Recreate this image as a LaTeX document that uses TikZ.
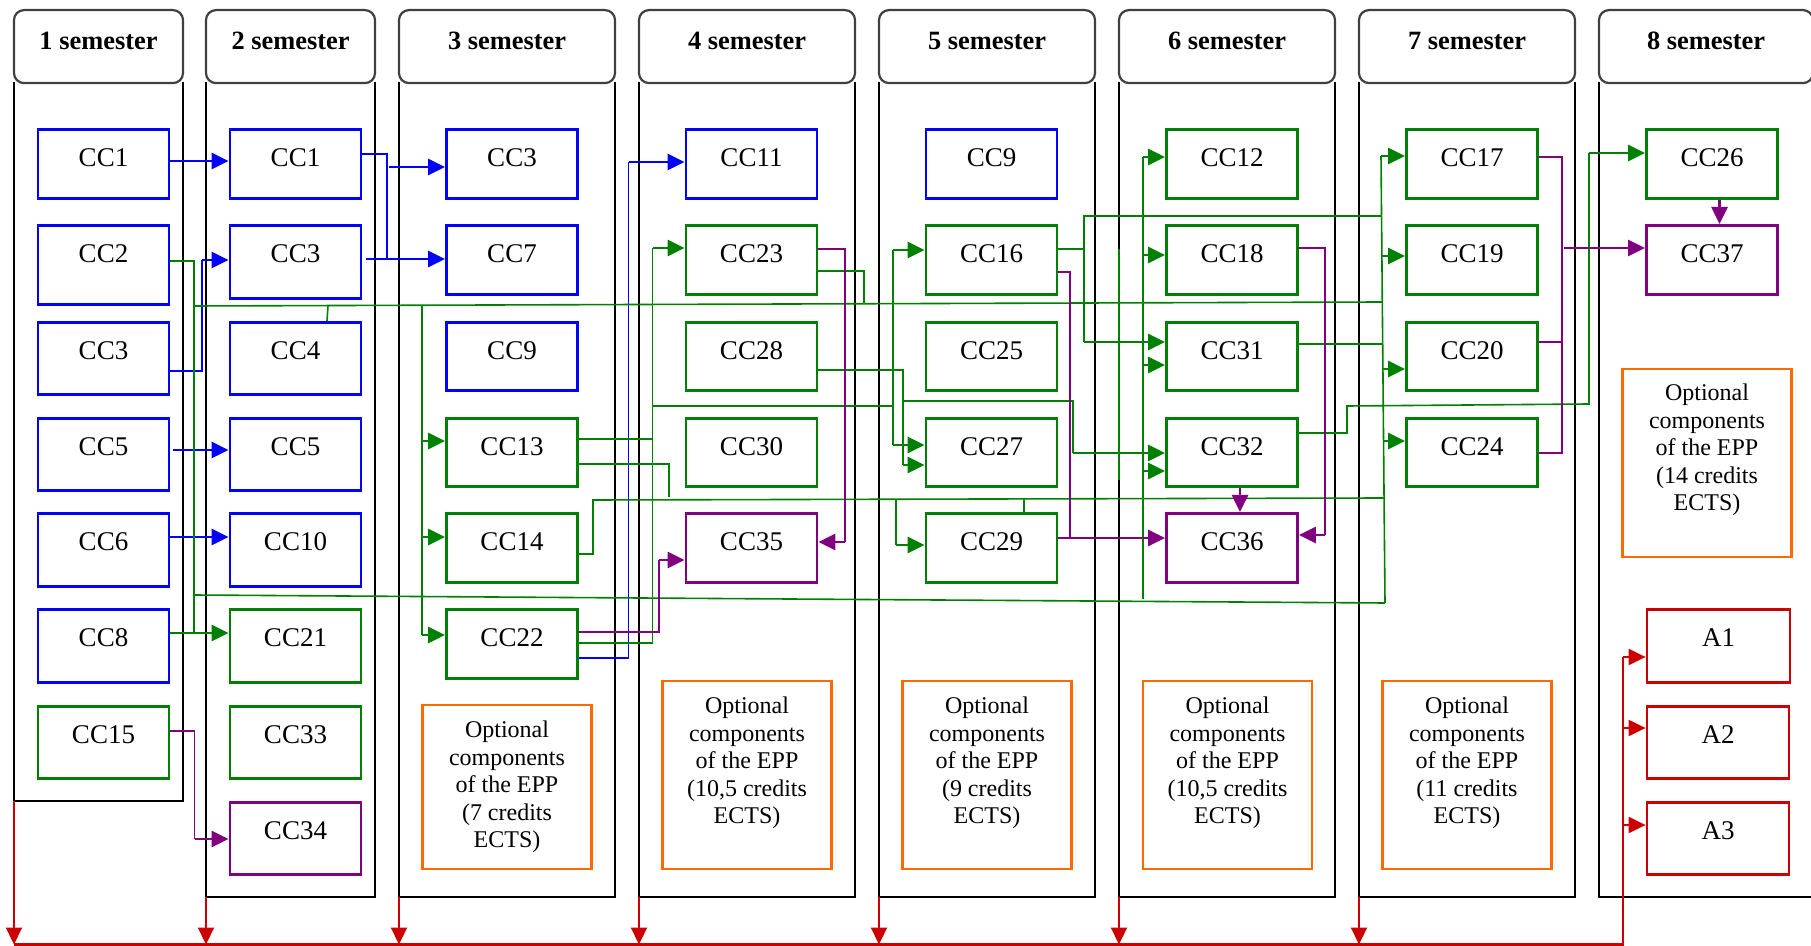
\documentclass[tikz,border=0pt]{standalone}
\usepackage{fontspec}
\setmainfont{Liberation Serif}
\usetikzlibrary{arrows.meta}
\definecolor{cblue}{RGB}{0,0,255}
\definecolor{cgreen}{RGB}{0,128,0}
\definecolor{cpurple}{RGB}{128,0,128}
\definecolor{corange}{RGB}{255,106,0}
\definecolor{cred}{RGB}{204,0,0}
\definecolor{hdrgray}{RGB}{64,64,64}
\begin{document}
\begin{tikzpicture}[x=0.5pt,y=-0.5pt,
  colline/.style={line width=1pt, black},
  hdr/.style={draw=hdrgray, line width=1.1pt, rounded corners=5pt, inner xsep=0pt, inner ysep=0pt, text height=19.5pt, text depth=17pt, anchor=north, font=\fontsize{13.2pt}{15pt}\selectfont\bfseries},
  ccbox/.style={draw=#1, line width=1.4pt, minimum width=65.5pt, inner xsep=0pt, inner ysep=0pt, text height=18.5pt, anchor=north, font=\fontsize{13.5pt}{16pt}\selectfont},
  optbox/.style={draw=corange, line width=1.4pt, minimum width=84.5pt, minimum height=94pt, inner sep=0pt},
  opttext/.style={align=center, inner sep=0pt, font=\fontsize{12pt}{13.8pt}\selectfont},
  conn/.style={line width=0.8pt},
  arr/.style={line width=1.3pt, -{Triangle[length=8.5pt,width=8pt]}},
  ]
\fill[white] (0,0) rectangle (1811,946);
\useasboundingbox (0,0) rectangle (1811,946);

% columns
\draw[colline] (14,82) -- (14,801) -- (183,801) -- (183,82);
\draw[colline] (206,82) -- (206,897) -- (375,897) -- (375,82);
\draw[colline] (399,82) -- (399,897) -- (615,897) -- (615,82);
\draw[colline] (639,82) -- (639,897) -- (855,897) -- (855,82);
\draw[colline] (879,82) -- (879,897) -- (1095,897) -- (1095,82);
\draw[colline] (1119,82) -- (1119,897) -- (1335,897) -- (1335,82);
\draw[colline] (1359,82) -- (1359,897) -- (1575,897) -- (1575,82);
\draw[colline] (1599,82) -- (1599,897) -- (1815,897);

% headers
\node[hdr, minimum width=84.5pt] (h1) at (98.5,9) {1 semester};
\node[hdr, minimum width=84.5pt] (h2) at (290.5,9) {2 semester};
\node[hdr, minimum width=108pt] (h3) at (507,9) {3 semester};
\node[hdr, minimum width=108pt] (h4) at (747,9) {4 semester};
\node[hdr, minimum width=108pt] (h5) at (987,9) {5 semester};
\node[hdr, minimum width=108pt] (h6) at (1227,9) {6 semester};
\node[hdr, minimum width=108pt] (h7) at (1467,9) {7 semester};
\node[hdr, minimum width=107pt] (h8) at (1706,9) {8 semester};

% column 1
\node[ccbox=cblue, text depth=16pt] (a1) at (103.5,128) {CC1};
\node[ccbox=cblue, text depth=21pt] (a2) at (103.5,224) {CC2};
\node[ccbox=cblue, text depth=17.5pt] (a3) at (103.5,321) {CC3};
\node[ccbox=cblue, text depth=17.5pt] (a5) at (103.5,417) {CC5};
\node[ccbox=cblue, text depth=18pt] (a6) at (103.5,512) {CC6};
\node[ccbox=cblue, text depth=18pt] (a8) at (103.5,608) {CC8};
\node[ccbox=cgreen, text depth=17.5pt] (a15) at (103.5,705) {CC15};
% column 2
\node[ccbox=cblue, text depth=16pt] (b1) at (295.5,128) {CC1};
\node[ccbox=cblue, text depth=18pt] (b3) at (295.5,224) {CC3};
\node[ccbox=cblue, text depth=17.5pt] (b4) at (295.5,321) {CC4};
\node[ccbox=cblue, text depth=17.5pt] (b5) at (295.5,417) {CC5};
\node[ccbox=cblue, text depth=18pt] (b10) at (295.5,512) {CC10};
\node[ccbox=cgreen, text depth=18pt] (b21) at (295.5,608) {CC21};
\node[ccbox=cgreen, text depth=17.5pt] (b33) at (295.5,705) {CC33};
\node[ccbox=cpurple, text depth=17.5pt] (b34) at (295.5,801) {CC34};
% column 3
\node[ccbox=cblue, text depth=16pt] (c3) at (512,128) {CC3};
\node[ccbox=cblue, text depth=16pt] (c7) at (512,224) {CC7};
\node[ccbox=cblue, text depth=15.5pt] (c9) at (512,321) {CC9};
\node[ccbox=cgreen, text depth=15.5pt] (c13) at (512,417) {CC13};
\node[ccbox=cgreen, text depth=16pt] (c14) at (512,512) {CC14};
\node[ccbox=cgreen, text depth=16pt] (c22) at (512,608) {CC22};
% column 4
\node[ccbox=cblue, text depth=16pt] (d11) at (751.5,128) {CC11};
\node[ccbox=cgreen, text depth=16pt] (d23) at (751.5,224) {CC23};
\node[ccbox=cgreen, text depth=15.5pt] (d28) at (751.5,321) {CC28};
\node[ccbox=cgreen, text depth=15.5pt] (d30) at (751.5,417) {CC30};
\node[ccbox=cpurple, text depth=16pt] (d35) at (751.5,512) {CC35};
% column 5
\node[ccbox=cblue, text depth=16pt] (e9) at (991.5,128) {CC9};
\node[ccbox=cgreen, text depth=16pt] (e16) at (991.5,224) {CC16};
\node[ccbox=cgreen, text depth=15.5pt] (e25) at (991.5,321) {CC25};
\node[ccbox=cgreen, text depth=15.5pt] (e27) at (991.5,417) {CC27};
\node[ccbox=cgreen, text depth=16pt] (e29) at (991.5,512) {CC29};
% column 6
\node[ccbox=cgreen, text depth=16pt] (f12) at (1232,128) {CC12};
\node[ccbox=cgreen, text depth=16pt] (f18) at (1232,224) {CC18};
\node[ccbox=cgreen, text depth=15.5pt] (f31) at (1232,321) {CC31};
\node[ccbox=cgreen, text depth=15.5pt] (f32) at (1232,417) {CC32};
\node[ccbox=cpurple, text depth=16pt] (f36) at (1232,512) {CC36};
% column 7
\node[ccbox=cgreen, text depth=16pt] (g17) at (1472,128) {CC17};
\node[ccbox=cgreen, text depth=16pt] (g19) at (1472,224) {CC19};
\node[ccbox=cgreen, text depth=15.5pt] (g20) at (1472,321) {CC20};
\node[ccbox=cgreen, text depth=15.5pt] (g24) at (1472,417) {CC24};
% column 8
\node[ccbox=cgreen, text depth=16pt] (h26) at (1712,128) {CC26};
\node[ccbox=cpurple, text depth=16pt] (h37) at (1712,224) {CC37};
\node[ccbox=cred, minimum width=71.5pt, text depth=18pt] (A1) at (1718.5,608) {A1};
\node[ccbox=cred, minimum width=71pt, text depth=17.5pt] (A2) at (1718,705) {A2};
\node[ccbox=cred, minimum width=71pt, text depth=17.5pt] (A3) at (1718,801) {A3};

% optional components
\node[optbox, minimum height=82pt] (o3) at (507,787) {};
\node[opttext] (o3t) at (507,787) {Optional\\components\\of the EPP\\(7 credits\\ECTS)};
\node[optbox] (o4) at (747,775) {};
\node[opttext] (o4t) at (747,763) {Optional\\components\\of the EPP\\(10,5 credits\\ECTS)};
\node[optbox] (o5) at (987,775) {};
\node[opttext] (o5t) at (987,763) {Optional\\components\\of the EPP\\(9 credits\\ECTS)};
\node[optbox] (o6) at (1227.5,775) {};
\node[opttext] (o6t) at (1227.5,763) {Optional\\components\\of the EPP\\(10,5 credits\\ECTS)};
\node[optbox] (o7) at (1467,775) {};
\node[opttext] (o7t) at (1467,763) {Optional\\components\\of the EPP\\(11 credits\\ECTS)};
\node[optbox] (o8) at (1707,463) {};
\node[opttext] (o8t) at (1707,450) {Optional\\components\\of the EPP\\(14 credits\\ECTS)};

% ---------- blue connectors
\draw[arr,cblue] (a1.east |- 0,161) -- (b1.west |- 0,161);
\draw[conn,cblue] (b1.east |- 0,154) -- (387,154) -- (387,259);
\draw[arr,cblue] (389,167) -- (c3.west |- 0,167);
\draw[arr,cblue] (366,259) -- (c7.west |- 0,259);
\draw[conn,cblue] (a3.east |- 0,371) -- (202,371) -- (202,260);
\draw[arr,cblue] (202,260) -- (b3.west |- 0,260);
\draw[arr,cblue] (173,450) -- (b5.west |- 0,450);
\draw[arr,cblue] (a6.east |- 0,537) -- (b10.west |- 0,537);
\draw[conn,cblue] (c22.east |- 0,658) -- (628.5,658) -- (628.5,162);
\draw[arr,cblue] (628.5,162) -- (d11.west |- 0,162);

% ---------- green connectors
\draw[conn,cgreen] (a2.east |- 0,261) -- (194,261) -- (194,633);
\draw[arr,cgreen] (a8.east |- 0,633) -- (b21.west |- 0,633);
\draw[conn,cgreen] (194,306) -- (1382,302);
\draw[conn,cgreen] (194,595) -- (1385,603);
\draw[conn,cgreen] (b4.north -| 327,0) -- (328,306);
\draw[conn,cgreen] (422,306) -- (422,635);
\draw[arr,cgreen] (422,441) -- (c13.west |- 0,441);
\draw[arr,cgreen] (422,537) -- (c14.west |- 0,537);
\draw[arr,cgreen] (422,635) -- (c22.west |- 0,635);
\draw[conn,cgreen] (c22.east |- 0,643) -- (652.5,643) -- (652.5,248);
\draw[arr,cgreen] (652.5,248) -- (d23.west |- 0,248);
\draw[conn,cgreen] (c13.east |- 0,439) -- (652.5,439);
\draw[conn,cgreen] (c13.east |- 0,464) -- (669,464) -- (669,497);
\draw[conn,cgreen] (c14.east |- 0,554) -- (593,554) -- (593,500) -- (1385,498);
\draw[conn,cgreen] (652.5,406) -- (893,406);
\draw[conn,cgreen] (893,250) -- (893,445);
\draw[arr,cgreen] (893,250) -- (e16.west |- 0,250);
\draw[arr,cgreen] (893,445) -- (e27.west |- 0,445);
\draw[conn,cgreen] (d23.east |- 0,271) -- (864,271) -- (864,304);
\draw[conn,cgreen] (d28.east |- 0,370) -- (903,370) -- (903,465);
\draw[arr,cgreen] (903,465) -- (e27.west |- 0,465);
\draw[conn,cgreen] (903,401) -- (1073,401) -- (1073,453);
\draw[arr,cgreen] (1073,453) -- (f32.west |- 0,453);
\draw[conn,cgreen] (896,500) -- (896,545);
\draw[arr,cgreen] (896,545) -- (e29.west |- 0,545);
\draw[conn,cgreen] (e29.north -| 1024,0) -- (1024,499);
\draw[conn,cgreen] (e16.east |- 0,249) -- (1084,249);
\draw[conn,cgreen] (1084,342) -- (1084,216) -- (1381,216);
\draw[arr,cgreen] (1084,342) -- (f31.west |- 0,342);
\draw[conn,cgreen] (1143,599) -- (1143,157);
\draw[arr,cgreen] (1143,157) -- (f12.west |- 0,157);
\draw[arr,cgreen] (1143,255) -- (f18.west |- 0,255);
\draw[arr,cgreen] (1143,365) -- (f31.west |- 0,365);
\draw[arr,cgreen] (1143,471) -- (f32.west |- 0,471);
\draw[conn,cgreen] (1119,249) -- (1119,480);
\draw[conn,cgreen] (f31.east |- 0,344) -- (1382,344);
\draw[conn,cgreen] (f32.east |- 0,433) -- (1347,433) -- (1347,406) -- (1589,404) -- (1589,153);
\draw[arr,cgreen] (1589,153) -- (h26.west |- 0,153);
\draw[conn,cgreen] (1381,156) -- (1385,603);
\draw[arr,cgreen] (1381,156) -- (g17.west |- 0,156);
\draw[arr,cgreen] (1382,256) -- (g19.west |- 0,256);
\draw[arr,cgreen] (1383,369) -- (g20.west |- 0,369);
\draw[arr,cgreen] (1383,441) -- (g24.west |- 0,441);

% ---------- purple connectors
\draw[conn,cpurple] (a15.east |- 0,731) -- (194.5,731) -- (194.5,839);
\draw[arr,cpurple] (194.5,839) -- (b34.west |- 0,839);
\draw[conn,cpurple] (c22.east |- 0,632) -- (659,632) -- (659,560);
\draw[arr,cpurple] (659,560) -- (d35.west |- 0,560);
\draw[conn,cpurple] (d23.east |- 0,249) -- (845,249) -- (845,542);
\draw[arr,cpurple] (845,542) -- (d35.east |- 0,542);
\draw[conn,cpurple] (e16.east |- 0,272) -- (1070,272) -- (1070,538);
\draw[arr,cpurple] (e29.east |- 0,538) -- (f36.west |- 0,538);
\draw[conn,cpurple] (f18.east |- 0,248) -- (1325,248) -- (1325,535);
\draw[arr,cpurple] (1325,535) -- (f36.east |- 0,535);
\draw[arr,cpurple] (f32.south -| 1240,0) -- (f36.north -| 1240,0);
\draw[conn,cpurple] (g17.east |- 0,157) -- (1562,157) -- (1562,453) -- (g24.east |- 0,453);
\draw[conn,cpurple] (g20.east |- 0,342) -- (1562,342);
\draw[arr,cpurple] (1564,248) -- (h37.west |- 0,248);
\draw[arr,cpurple] (h26.south -| 1719.5,0) -- (h37.north -| 1719.5,0);

% ---------- red connectors
\coordinate (k1) at (14,801);
\coordinate (k2) at (206,897);
\coordinate (k3) at (399,897);
\coordinate (k4) at (639,897);
\coordinate (k5) at (879,897);
\coordinate (k6) at (1119,897);
\coordinate (k7) at (1359,897);
\coordinate (bus0) at (14,944.5);
\coordinate (bus1) at (1623,944.5);
\coordinate (busA) at (1623,657);
\foreach \k in {k1,k2,k3,k4,k5,k6,k7}
  \draw[arr,cred,line width=1.1pt] (\k) -- (\k |- bus0);
\draw[cred,line width=1.1pt] (bus0) -- (bus1) -- (busA);
\draw[arr,cred,line width=1.1pt] (busA) -- (A1.west |- busA);
\draw[arr,cred,line width=1.1pt] (1623,728) -- (A2.west |- 0,728);
\draw[arr,cred,line width=1.1pt] (1623,825) -- (A3.west |- 0,825);
\end{tikzpicture}
\end{document}
